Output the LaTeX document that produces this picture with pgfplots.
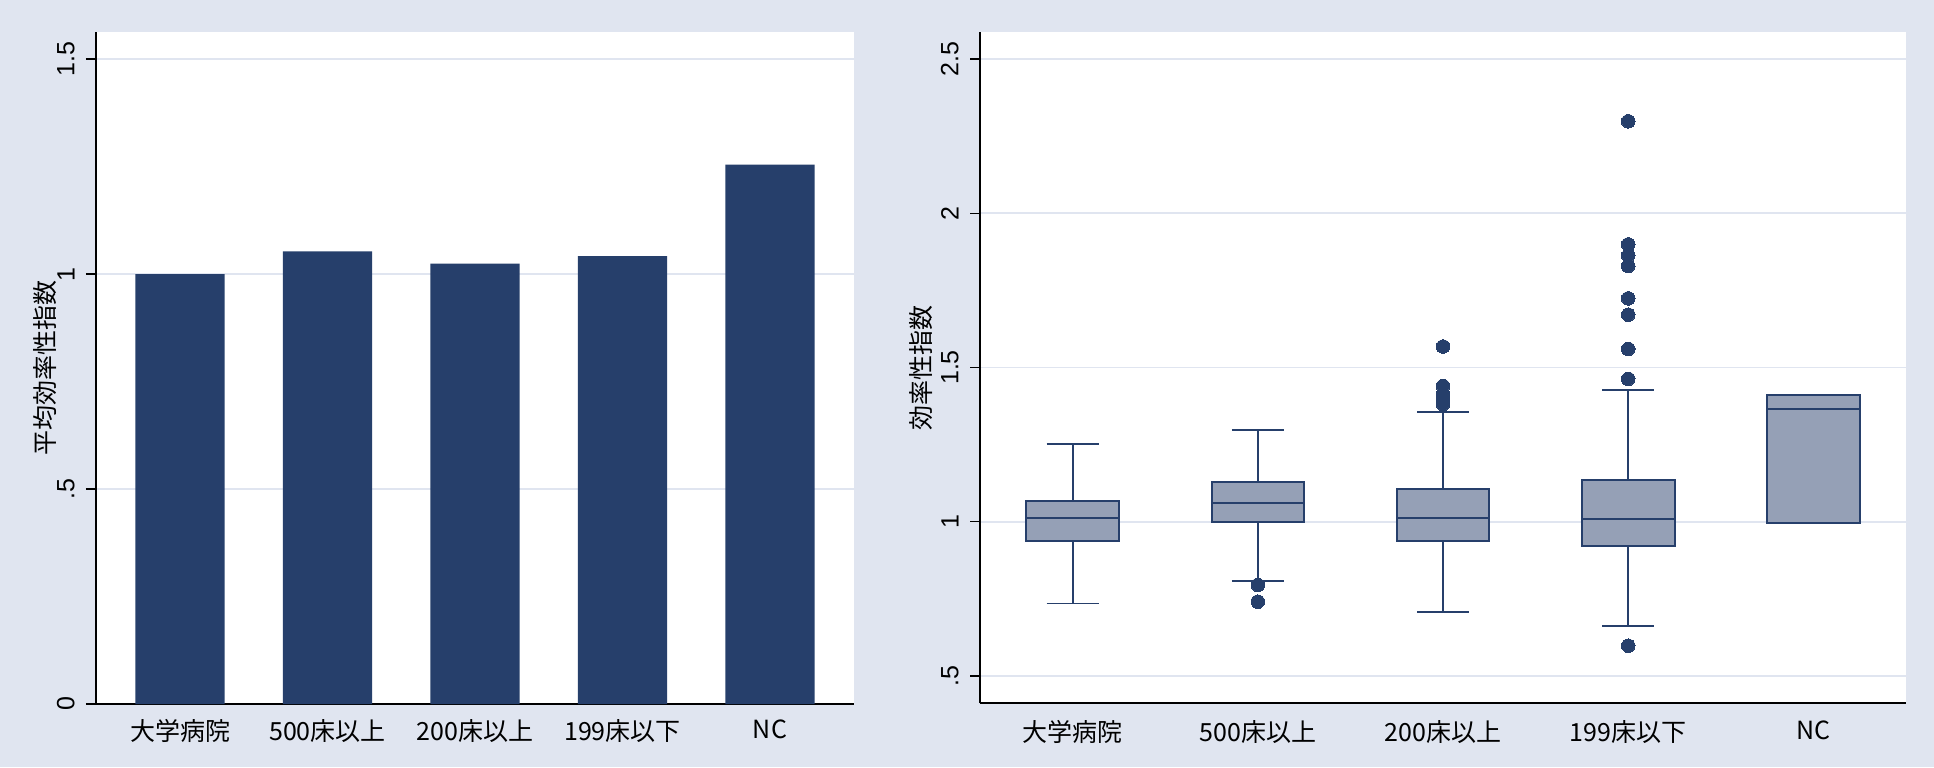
\documentclass[border=0pt]{standalone}
\usepackage{pgfplots}
\pgfplotsset{compat=1.18}
\usepgfplotslibrary{statistics}
\usepackage{fontspec}
\setmainfont{Liberation Sans}
\newfontfamily\cjk{Noto Sans CJK JP}
\definecolor{bg}{RGB}{224,229,240}
\definecolor{navy}{RGB}{38,63,107}
\definecolor{boxfill}{RGB}{149,160,182}
\definecolor{gridc}{RGB}{224,229,240}
\pgfplotsset{
  stata/.style={
    scale only axis,
    axis background/.style={fill=white},
    axis x line*=bottom, axis y line*=left,
    axis line style={-, black, line width=0.8pt},
    ymajorgrids,
    major grid style={gridc, line width=0.9pt},
    ytick align=outside,
    major tick length=5pt,
    ytick style={black, line width=0.7pt},
    xtick style={draw=none},
    yticklabel style={rotate=90, anchor=south, inner sep=0pt, yshift=5.5pt, font=\fontsize{12.5}{12.5}\selectfont},
    xtick={1,2,3,4,5},
    xticklabels={大学病院,500床以上,200床以上,199床以下,NC},
    clip=false,
  }
}
\begin{document}
\begin{tikzpicture}
\fill[bg] (0,0) rectangle (967pt,383.5pt);
\begin{axis}[stata,
  at={(48pt,31.5pt)}, anchor=south west,
  width=379pt, height=336pt,
  xmin=0.43, xmax=5.57, ymin=0, ymax=1.563,
  ybar, bar width=0.606,
  xticklabel style={font=\cjk\fontsize{12.5}{12.5}\selectfont, anchor=north, inner sep=0pt, yshift=-2.5pt},
  ytick={0,0.5,1,1.5}, yticklabels={0,.5,1,1.5},
  ylabel={平均効率性指数},
  every axis y label/.style={at={(axis description cs:0,0.5)}, rotate=90, anchor=center, yshift=25.5pt, font=\cjk\fontsize{12.5}{12.5}\selectfont},
]
\addplot[fill=navy, draw=none] coordinates {(1,1.000) (2,1.053) (3,1.024) (4,1.042) (5,1.2545)};
\end{axis}
\begin{axis}[stata,
  at={(490pt,32pt)}, anchor=south west,
  width=463pt, height=335.5pt,
  xmin=0.5, xmax=5.5, ymin=0.4125, ymax=2.5875,
  xticklabel style={font=\cjk\fontsize{12.5}{12.5}\selectfont, anchor=north, inner sep=0pt, yshift=-8.5pt},
  ytick={0.5,1,1.5,2,2.5}, yticklabels={.5,1,1.5,2,2.5},
  ylabel={効率性指数},
  every axis y label/.style={at={(axis description cs:0,0.5)}, rotate=90, anchor=center, yshift=29.5pt, font=\cjk\fontsize{12.5}{12.5}\selectfont},
  boxplot/draw direction=y,
  boxplot/box extend=0.5,
  boxplot/whisker extend=0.28,
  boxplot/every box/.style={fill=boxfill, draw=navy, line width=1pt, solid},
  boxplot/every median/.style={draw=navy, line width=1pt, solid},
  boxplot/every whisker/.style={draw=navy, line width=0.9pt, solid},
  bx/.style={navy, mark=*, mark size=3.4pt, mark options={fill=navy, draw=navy, solid, line width=0pt}},
]
\addplot[bx, boxplot prepared={draw position=1, lower whisker=0.735, lower quartile=0.938, median=1.011, upper quartile=1.067, upper whisker=1.251}] coordinates {};
\addplot[bx, boxplot prepared={draw position=2, lower whisker=0.808, lower quartile=1.000, median=1.062, upper quartile=1.129, upper whisker=1.297}] table[row sep=\\, y index=0] {y\\ 0.795\\ 0.741\\};
\addplot[bx, boxplot prepared={draw position=3, lower whisker=0.708, lower quartile=0.938, median=1.011, upper quartile=1.106, upper whisker=1.355}] table[row sep=\\, y index=0] {y\\ 1.568\\ 1.440\\ 1.413\\ 1.392\\ 1.381\\};
\addplot[bx, boxplot prepared={draw position=4, lower whisker=0.663, lower quartile=0.922, median=1.010, upper quartile=1.134, upper whisker=1.426}] table[row sep=\\, y index=0] {y\\ 0.598\\ 1.463\\ 1.560\\ 1.671\\ 1.724\\ 1.829\\ 1.863\\ 1.899\\ 2.298\\};
\addplot[bx, boxplot prepared={draw position=5, lower whisker=0.995, lower quartile=0.995, median=1.364, upper quartile=1.410, upper whisker=1.410}] coordinates {};
\end{axis}
\pgfresetboundingbox
\useasboundingbox (0,0) rectangle (967pt,383.5pt);
\end{tikzpicture}
\end{document}
